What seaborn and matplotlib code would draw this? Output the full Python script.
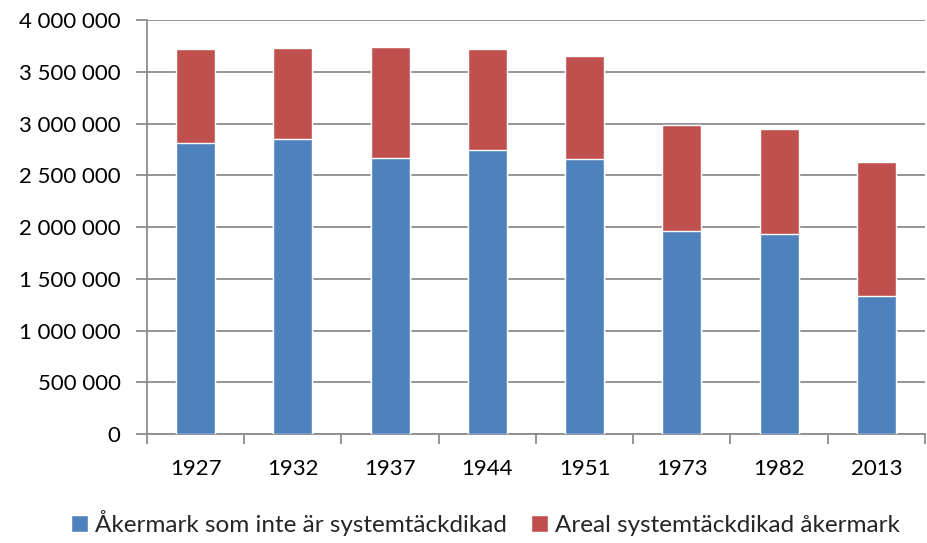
import matplotlib as mpl
import matplotlib.pyplot as plt
import seaborn as sns
from matplotlib.patches import Patch
from matplotlib.ticker import FuncFormatter, FixedLocator

years = ['1927', '1932', '1937', '1944', '1951', '1973', '1982', '2013']
ej_tackdikad = [2809000, 2850000, 2664000, 2741000, 2654000, 1959000, 1933000, 1338000]
tackdikad = [907000, 876000, 1071000, 975000, 998000, 1024000, 1014000, 1290000]
totals = [a + b for a, b in zip(ej_tackdikad, tackdikad)]

blue = '#4f81bd'
red = '#c0504d'
grid = '#8c8c8c'

sns.set_style('white')
plt.rcParams['font.family'] = ['Lato', 'DejaVu Sans']

fig = plt.figure(figsize=(9.28, 5.43), dpi=100)
ax = fig.add_axes([147 / 928, 1 - 434.3 / 543, (925 - 147) / 928, (434.3 - 19.9) / 543])

sns.barplot(x=years, y=totals, color=red, width=0.4, saturation=1, ax=ax, zorder=3)
sns.barplot(x=years, y=ej_tackdikad, color=blue, width=0.4, saturation=1, ax=ax, zorder=3)

ax.set_xlim(-0.5, 7.5)
ax.set_ylim(0, 4000000)
ax.set_yticks(range(0, 4000001, 500000))
ax.yaxis.set_major_formatter(FuncFormatter(lambda v, p: f'{int(v):,}'.replace(',', ' ')))
ax.yaxis.grid(True, color=grid, linewidth=1.3, zorder=0)
ax.set_axisbelow(True)

for s in ['top', 'right']:
    ax.spines[s].set_visible(False)
for s in ['left', 'bottom']:
    ax.spines[s].set_color(grid)
    ax.spines[s].set_linewidth(1.3)

ax.tick_params(axis='y', which='major', left=True, length=8, width=1.3, color=grid,
               labelsize=16, pad=11, labelcolor='black')
ax.tick_params(axis='x', which='major', bottom=False, labelsize=16, pad=14, labelcolor='black')
ax.xaxis.set_minor_locator(FixedLocator([i - 0.5 for i in range(9)]))
ax.tick_params(axis='x', which='minor', bottom=True, length=7, width=1.3, color=grid)
ax.set_xlabel('')
ax.set_ylabel('')

handles = [Patch(facecolor=blue, label='Åkermark som inte är systemtäckdikad'),
           Patch(facecolor=red, label='Areal systemtäckdikad åkermark')]
fig.legend(handles=handles, loc='center', bbox_to_anchor=(0.523, 1 - 523 / 543),
           ncol=2, frameon=False, fontsize=17.5, handlelength=0.7, handleheight=0.7,
           handletextpad=0.3, columnspacing=1.0)

fig.savefig('out.png', dpi=100)
